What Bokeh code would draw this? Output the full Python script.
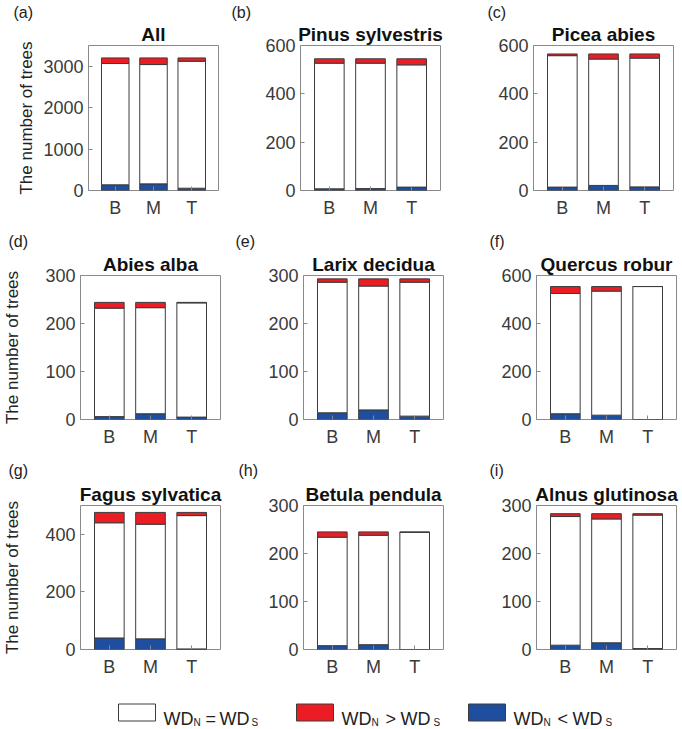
from bokeh.plotting import figure
from bokeh.layouts import column, row
from bokeh.models import Range1d, FixedTicker, Title, ColumnDataSource
from bokeh.embed import file_html
from bokeh.resources import INLINE
from bokeh.core.properties import value

# ---------------- data ----------------
positions = ["B", "M", "T"]
species = ["All", "Pinus sylvestris", "Picea abies", "Abies alba", "Larix decidua",
           "Quercus robur", "Fagus sylvatica", "Betula pendula", "Alnus glutinosa"]
panel_labels = ["(a)", "(b)", "(c)", "(d)", "(e)", "(f)", "(g)", "(h)", "(i)"]
total_trees = [3200, 545, 565, 244, 293, 554, 476, 245, 283]
# WD_N < WD_S (blue), per B, M, T
lt_counts = [[137, 160, 55], [7, 8, 14], [14, 21, 15], [6, 12, 5], [14, 20, 7],
             [24, 18, 0], [40, 37, 2], [8, 10, 0], [9, 14, 2]]
# WD_N > WD_S (red), per B, M, T
gt_counts = [[135, 160, 80], [18, 18, 25], [7, 21, 17], [12, 11, 1], [7, 15, 7],
             [29, 19, 0], [36, 41, 11], [11, 7, 1], [6, 11, 3]]
y_max = [3500, 600, 600, 300, 300, 600, 500, 300, 300]
y_ticks = [[0, 1000, 2000, 3000], [0, 200, 400, 600], [0, 200, 400, 600],
           [0, 100, 200, 300], [0, 100, 200, 300], [0, 200, 400, 600],
           [0, 200, 400], [0, 100, 200, 300], [0, 100, 200, 300]]
y_label = "The number of trees"
legend_ops = ["=", ">", "<"]

WHITE, RED, BLUE = "#ffffff", "#ec1c24", "#1f4e9f"
FONT = "Liberation Sans"
TICK_COLOR = "#3a3a3a"
BOX_COLOR = "#8a8a8a"
BAR_LINE = "#3c3c3c"

# ---------------- layout ----------------
row_top = [45, 48, 53]
row_fh = [145, 144, 144]
row_bottom = [37, 33, 36]
col_left = [77, 73, 78]
col_right = [10, 15, 9]
label_offsets = [-75, -69, -46, -72, -68, -47, -72, -65, -47]
label_standoff = [2, 4, 6]


def make_panel(i):
    r, c = divmod(i, 3)
    left, fw, right = col_left[c], 140, col_right[c]
    if i == 0:
        left, fw, right = 88, 130, 9
    p = figure(frame_width=fw, frame_height=row_fh[r],
               min_border_left=left, min_border_right=right,
               min_border_top=row_top[r], min_border_bottom=row_bottom[r],
               x_range=Range1d(0.3, 3.7), y_range=Range1d(0, y_max[i]),
               toolbar_location=None, output_backend="svg", title=None)
    lt = lt_counts[i]
    gt = gt_counts[i]
    eq = [total_trees[i] - a - b for a, b in zip(lt, gt)]
    src = ColumnDataSource(dict(x=[1, 2, 3], lt=lt, eq=eq, gt=gt))
    p.vbar_stack(["lt", "eq", "gt"], x="x", width=0.72, source=src,
                 fill_color=[BLUE, WHITE, RED], line_color=BAR_LINE, line_width=1)

    p.xgrid.visible = False
    p.ygrid.visible = False
    p.outline_line_color = BOX_COLOR
    p.outline_line_width = 1
    p.background_fill_color = "white"
    p.border_fill_color = "white"

    xa = p.xaxis[0]
    xa.ticker = FixedTicker(ticks=[1, 2, 3])
    xa.major_label_overrides = {1: positions[0], 2: positions[1], 3: positions[2]}
    ya = p.yaxis[0]
    ya.ticker = FixedTicker(ticks=y_ticks[i])
    for ax in (xa, ya):
        ax.axis_line_color = None
        ax.major_tick_in = 4
        ax.major_tick_out = 0
        ax.major_tick_line_color = BOX_COLOR
        ax.minor_tick_line_color = None
        ax.major_label_text_font = FONT
        ax.major_label_text_font_size = "18px"
        ax.major_label_text_color = TICK_COLOR
        ax.major_label_standoff = 5
    xa.major_label_standoff = 7
    if c == 0:
        ya.axis_label = y_label
        ya.axis_label_text_font = FONT
        ya.axis_label_text_font_size = "17px"
        ya.axis_label_text_font_style = "normal"
        ya.axis_label_text_color = "#222222"
        ya.axis_label_standoff = 4 if i == 0 else 20

    p.add_layout(Title(text=species[i], align="center", text_font=FONT,
                       text_font_size="19px", text_font_style="bold",
                       text_color="#111111", standoff=1), "above")
    p.add_layout(Title(text=panel_labels[i], align="left", offset=label_offsets[i],
                       text_font=FONT, text_font_size="16px", text_font_style="normal",
                       text_color="#222222", standoff=label_standoff[r]), "above")
    return p


panels = [make_panel(i) for i in range(9)]

# ---------------- legend ----------------
leg = figure(frame_width=682, frame_height=44, x_range=Range1d(0, 682), y_range=Range1d(44, 0),
             min_border_left=0, min_border_right=0, min_border_top=0, min_border_bottom=0,
             x_axis_type=None, y_axis_type=None, toolbar_location=None,
             output_backend="svg", title=None)
leg.xgrid.visible = False
leg.ygrid.visible = False
leg.outline_line_color = None
sw_x = [136.5, 314.5, 486.5]
leg.rect(x=sw_x, y=[27] * 3, width=37, height=17,
         fill_color=[WHITE, RED, BLUE], line_color=BAR_LINE, line_width=1)
main_x, main_t, sub_x, sub_t = [], [], [], []
for k, sx in enumerate(sw_x):
    x0 = sx + 26.5
    main_x += [x0, x0 + 42 if k == 0 else x0 + 44, x0 + 56 if k == 0 else x0 + 59]
    main_t += ["WD", legend_ops[k], "WD"]
    sub_x += [x0 + 30, (x0 + 88) if k == 0 else (x0 + 92)]
    sub_t += ["N", "S"]
leg.text(x=main_x, y=[33] * len(main_x), text=main_t, text_font=value(FONT),
         text_font_size="18px", text_color="#222222", text_baseline="alphabetic")
leg.text(x=sub_x, y=[37] * len(sub_x), text=sub_t, text_font=value(FONT),
         text_font_size="10px", text_color="#222222", text_baseline="alphabetic")

layout = column(row(*panels[0:3]), row(*panels[3:6]), row(*panels[6:9]), leg)
open("out.html", "w").write(file_html(layout, INLINE))
